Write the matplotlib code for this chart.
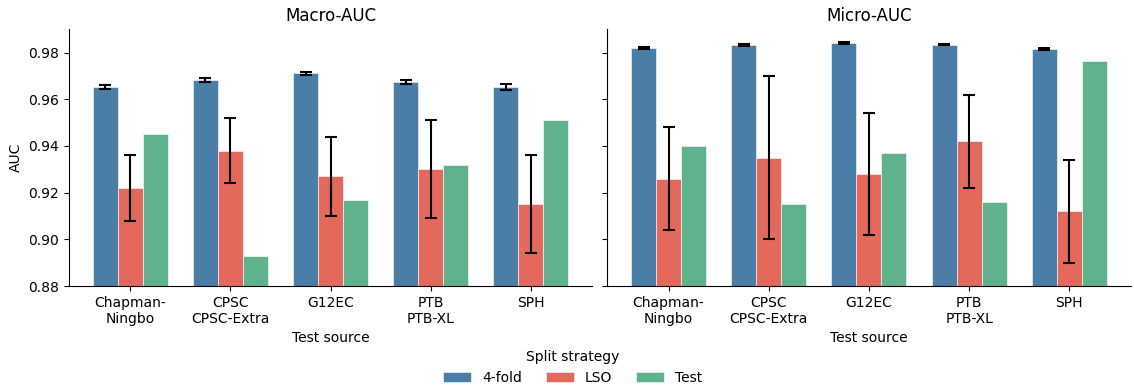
import numpy as np
import matplotlib
matplotlib.use("Agg")
import matplotlib.pyplot as plt

sources = ["Chapman-\nNingbo", "CPSC\nCPSC-Extra", "G12EC", "PTB\nPTB-XL", "SPH"]
strategies = ["4-fold", "LSO", "Test"]
colors = ["#4a7ea6", "#e2695b", "#5fb28b"]

# Macro-AUC
macro_kfold = [0.9653, 0.9683, 0.9711, 0.9674, 0.9653]
macro_kfold_lo = [0.9644, 0.9673, 0.9705, 0.9667, 0.9639]
macro_kfold_hi = [0.9662, 0.9692, 0.9717, 0.9681, 0.9666]
macro_lso = [0.922, 0.938, 0.927, 0.930, 0.915]
macro_lso_lo = [0.908, 0.924, 0.910, 0.909, 0.894]
macro_lso_hi = [0.936, 0.952, 0.944, 0.951, 0.936]
macro_test = [0.945, 0.893, 0.917, 0.932, 0.951]

# Micro-AUC
micro_kfold = [0.9821, 0.9833, 0.9843, 0.9833, 0.9814]
micro_kfold_lo = [0.9817, 0.9827, 0.9839, 0.9831, 0.9810]
micro_kfold_hi = [0.9825, 0.9838, 0.9847, 0.9835, 0.9818]
micro_lso = [0.926, 0.935, 0.928, 0.942, 0.912]
micro_lso_lo = [0.904, 0.900, 0.902, 0.922, 0.890]
micro_lso_hi = [0.948, 0.970, 0.954, 0.962, 0.934]
micro_test = [0.940, 0.915, 0.937, 0.916, 0.9766]

fig = plt.figure(figsize=(11.34, 3.85), dpi=100)
ax1 = fig.add_axes([0.0608, 0.2571, 0.4615, 0.6668])
ax2 = fig.add_axes([0.5355, 0.2571, 0.4615, 0.6668], sharey=ax1)

x = np.arange(len(sources))
w = 0.25


def draw(ax, kfold, klo, khi, lso, llo, lhi, test, title):
    vals = [kfold, lso, test]
    errs = [(klo, khi), (llo, lhi), None]
    for i, (v, c) in enumerate(zip(vals, colors)):
        pos = x + (i - 1) * w
        ax.bar(pos, v, width=w, color=c, edgecolor="white", linewidth=0.4,
               label=strategies[i])
        if errs[i] is not None:
            lo, hi = errs[i]
            v = np.array(v)
            yerr = [v - np.array(lo), np.array(hi) - v]
            ax.errorbar(pos, v, yerr=yerr, fmt="none", ecolor="black",
                        elinewidth=1.5, capsize=4, capthick=1.5)
    ax.set_xticks(x)
    ax.set_xticklabels(sources)
    ax.set_xlabel("Test source")
    ax.set_title(title, fontsize=12)
    ax.spines["top"].set_visible(False)
    ax.spines["right"].set_visible(False)


draw(ax1, macro_kfold, macro_kfold_lo, macro_kfold_hi,
     macro_lso, macro_lso_lo, macro_lso_hi, macro_test, "Macro-AUC")
draw(ax2, micro_kfold, micro_kfold_lo, micro_kfold_hi,
     micro_lso, micro_lso_lo, micro_lso_hi, micro_test, "Micro-AUC")

ax1.set_ylim(0.88, 0.99)
ax1.set_yticks([0.88, 0.90, 0.92, 0.94, 0.96, 0.98])
ax1.set_ylabel("AUC")
plt.setp(ax2.get_yticklabels(), visible=False)

handles, labels = ax1.get_legend_handles_labels()
fig.legend(handles, labels, title="Split strategy", loc="lower center",
           bbox_to_anchor=(0.505, -0.033), ncol=3, frameon=False,
           columnspacing=1.7)

fig.savefig("out.png", dpi=100)
